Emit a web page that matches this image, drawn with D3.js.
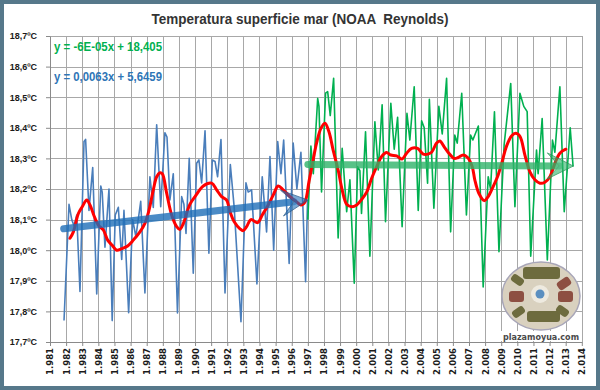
<!DOCTYPE html>
<html><head><meta charset="utf-8">
<script src="https://cdn.jsdelivr.net/npm/d3@7"></script>
<style>html,body{margin:0;padding:0;background:#fff}svg{display:block}</style>
</head><body>
<script>
// ---------- DATA ----------
const title = "Temperatura superficie mar (NOAA  Reynolds)";
const yearTicks = d3.range(1981, 2015);
const tempTicks = [17.7,17.8,17.9,18.0,18.1,18.2,18.3,18.4,18.5,18.6,18.7];
const eqGreen = "y = -6E-05x + 18,405";
const eqBlue = "y = 0,0063x + 5,6459";

// 1982-1996 series (blue)
const blueT = [1981.87,1982.18,1982.35,1982.49,1982.66,1982.86,1983.11,1983.21,1983.42,1983.65,1983.90,1984.15,1984.24,1984.41,1984.66,1984.86,1985.05,1985.24,1985.45,1985.59,1985.88,1986.13,1986.33,1986.63,1986.89,1987.20,1987.41,1987.62,1987.87,1988.13,1988.26,1988.44,1988.65,1988.91,1989.17,1989.31,1989.44,1989.64,1989.89,1990.10,1990.24,1990.41,1990.62,1990.86,1991.07,1991.24,1991.40,1991.61,1991.86,1992.19,1992.43,1992.85,1993.16,1993.30,1993.51,1993.84,1994.17,1994.44,1994.65,1994.88,1995.13,1995.33,1995.50,1995.84,1996.09,1996.32,1996.57,1996.86,1996.98];
const blueV = [17.77,18.15,18.10,18.08,18.115,17.865,18.355,18.362,18.13,18.27,17.857,18.21,18.19,18.01,18.20,17.77,18.115,18.14,17.97,18.13,17.796,18.10,18.044,18.16,17.86,18.24,18.14,18.41,18.142,18.384,18.37,18.164,18.25,17.795,18.175,18.15,18.055,18.30,17.925,18.284,18.295,18.22,18.39,17.99,18.295,18.29,18.24,18.362,17.86,18.28,18.14,17.766,18.22,18.19,18.197,17.89,18.24,18.06,18.306,18.0,18.355,18.25,18.36,17.957,18.35,18.2,18.32,17.897,18.164];

// 1997-2013 series (green)
const greenT = [1997.00,1997.19,1997.34,1997.61,1997.69,1997.85,1998.10,1998.23,1998.39,1998.60,1998.88,1999.13,1999.41,1999.61,1999.88,2000.09,2000.23,2000.33,2000.58,2000.85,2001.16,2001.37,2001.61,2001.82,2002.15,2002.36,2002.57,2002.85,2003.15,2003.33,2003.60,2003.85,2004.06,2004.22,2004.43,2004.54,2004.82,2005.13,2005.34,2005.61,2005.86,2006.12,2006.27,2006.55,2006.84,2007.10,2007.24,2007.58,2007.88,2008.19,2008.34,2008.58,2008.86,2009.18,2009.59,2009.85,2010.16,2010.40,2010.61,2010.83,2011.19,2011.29,2011.54,2011.86,2012.18,2012.33,2012.64,2012.91,2013.28,2013.46];
const greenV = [18.10,18.34,18.25,18.496,18.47,18.19,18.513,18.518,18.44,18.562,18.04,18.333,18.126,18.23,17.892,18.273,18.26,18.12,18.387,17.98,18.42,18.262,18.475,18.093,18.48,18.33,18.434,18.077,18.447,18.36,18.534,18.13,18.423,18.40,18.219,18.493,18.137,18.47,18.38,18.562,18.06,18.376,18.35,18.513,18.115,18.376,18.36,18.406,17.88,18.24,18.20,18.452,17.995,18.344,18.545,18.142,18.513,18.47,18.453,17.98,18.327,18.25,18.43,17.968,18.36,18.32,18.534,18.126,18.40,18.273];

// moving average (red)
const redT = [1982.24,1982.45,1982.76,1983.00,1983.28,1983.48,1983.75,1984.00,1984.31,1984.58,1984.86,1985.14,1985.45,1985.82,1986.17,1986.58,1986.89,1987.14,1987.41,1987.62,1987.82,1987.97,1988.24,1988.55,1988.86,1989.06,1989.27,1989.68,1990.00,1990.51,1991.03,1991.34,1991.65,1991.96,1992.17,1992.43,1992.79,1992.99,1993.20,1993.47,1993.88,1994.17,1994.54,1994.85,1995.16,1995.47,1995.89,1996.30,1996.57,1996.82,1997.07,1997.33,1997.54,1997.81,1998.06,1998.31,1998.57,1998.88,1999.13,1999.41,1999.72,2000.03,2000.34,2000.65,2000.96,2001.27,2001.58,2001.89,2002.15,2002.51,2002.85,2003.13,2003.44,2003.81,2004.16,2004.45,2004.68,2004.99,2005.19,2005.46,2005.75,2006.08,2006.33,2006.64,2006.91,2007.20,2007.36,2007.61,2007.94,2008.19,2008.50,2008.81,2009.06,2009.33,2009.64,2009.89,2010.16,2010.47,2010.78,2011.09,2011.40,2011.71,2012.02,2012.33,2012.64,2013.01];
const redV = [18.039,18.06,18.12,18.142,18.164,18.148,18.11,18.082,18.066,18.033,18.016,18.0,18.005,18.014,18.033,18.06,18.088,18.13,18.197,18.24,18.253,18.25,18.186,18.115,18.077,18.068,18.087,18.15,18.175,18.21,18.219,18.197,18.175,18.164,18.126,18.093,18.07,18.064,18.077,18.1,18.09,18.115,18.148,18.18,18.21,18.197,18.175,18.158,18.148,18.158,18.224,18.295,18.35,18.398,18.415,18.387,18.327,18.262,18.197,18.15,18.142,18.148,18.166,18.19,18.235,18.273,18.306,18.319,18.311,18.308,18.298,18.317,18.333,18.333,18.314,18.314,18.32,18.35,18.357,18.338,18.317,18.3,18.303,18.311,18.303,18.273,18.23,18.186,18.162,18.175,18.208,18.246,18.29,18.34,18.373,18.382,18.372,18.311,18.256,18.23,18.219,18.222,18.24,18.284,18.317,18.33];

// trend arrows
const blueTrendT = [1981.85, 1997.0];
const blueTrendV = [18.07, 18.164];
const greenTrendT = [1997.0, 2013.47];
const greenTrendV = [18.28, 18.275];

// ---------- DRAW ----------
const W = 600, H = 390;
const svg = d3.select("body").append("svg").attr("width", W).attr("height", H);
svg.append("rect").attr("width", W).attr("height", H).attr("fill", "#56788a");
svg.append("rect").attr("x", 4).attr("y", 4).attr("width", W - 8).attr("height", H - 8).attr("fill", "#fff");

const x = d3.scaleLinear().domain([1981, 2014]).range([50, 581.8]);
const y = d3.scaleLinear().domain([17.7, 18.7]).range([342, 36]);

svg.append("text").attr("x", 300).attr("y", 24).attr("text-anchor", "middle")
  .style("white-space", "pre")
  .attr("font-family", "'Liberation Sans', Arial, sans-serif").attr("font-weight", "bold")
  .attr("font-size", 14).attr("fill", "#333").attr("textLength", 297).attr("lengthAdjust", "spacingAndGlyphs")
  .text(title);

// grid
const grid = svg.append("g").attr("stroke", "#a8a8a8").attr("stroke-width", 1).attr("shape-rendering", "crispEdges");
grid.selectAll("line.h").data(tempTicks).join("line")
  .attr("x1", x(1981)).attr("x2", x(2014)).attr("y1", d => Math.round(y(d)) + 0.5).attr("y2", d => Math.round(y(d)) + 0.5);
grid.selectAll("line.v").data(yearTicks).join("line")
  .attr("y1", y(18.7)).attr("y2", y(17.7)).attr("x1", d => Math.round(x(d)) + 0.5).attr("x2", d => Math.round(x(d)) + 0.5);

// axes
const fmtYear = d => { const s = String(d); return s[0] + "." + s.slice(1); };
const xAxis = svg.append("g").attr("transform", `translate(0,${y(17.7)})`)
  .call(d3.axisBottom(x).tickValues(yearTicks).tickSize(4).tickSizeOuter(0).tickFormat(fmtYear));
xAxis.selectAll("text").attr("transform", "rotate(-90)").attr("x", -6).attr("y", 0).attr("dy", "0.35em")
  .style("text-anchor", "end").attr("font-family", "'DejaVu Sans', Verdana, sans-serif").attr("font-weight", "bold")
  .attr("font-size", 8.5).attr("fill", "#1a1a1a");
const yAxis = svg.append("g").attr("transform", `translate(${x(1981)},0)`)
  .call(d3.axisLeft(y).tickValues(tempTicks).tickSize(4).tickSizeOuter(0).tickPadding(9)
    .tickFormat(d => d.toFixed(1).replace(".", ",") + "ºC"));
yAxis.selectAll("text").attr("font-family", "'Liberation Sans', Arial, sans-serif").attr("font-weight", "bold")
  .attr("font-size", 9).attr("fill", "#1a1a1a");
svg.selectAll(".domain, .tick line").attr("stroke", "#8a8a8a");

const line = d3.line().x(d => x(d[0])).y(d => y(d[1]));
svg.append("path").datum(d3.zip(blueT, blueV)).attr("d", line)
  .attr("fill", "none").attr("stroke", "#4a7ebb").attr("stroke-width", 1.6).attr("stroke-linejoin", "round");
svg.append("path").datum(d3.zip(greenT, greenV)).attr("d", line)
  .attr("fill", "none").attr("stroke", "#00b050").attr("stroke-width", 1.6).attr("stroke-linejoin", "round");
svg.append("path").datum(d3.zip(redT, redV)).attr("d", line.curve(d3.curveCatmullRom))
  .attr("fill", "none").attr("stroke", "#ff0000").attr("stroke-width", 3).attr("stroke-linejoin", "round").attr("stroke-linecap", "round");
line.curve(d3.curveLinear);

function arrow(ts, vs, color, edge) {
  const x0 = x(ts[0]), y0 = y(vs[0]), x1 = x(ts[1]), y1 = y(vs[1]);
  const a = Math.atan2(y1 - y0, x1 - x0);
  const L = 26, Wd = 13, N = 14;
  const cos = Math.cos(a), sin = Math.sin(a);
  const pt = (back, side) => [x1 - back * cos - side * sin, y1 - back * sin + side * cos];
  const g = svg.append("g").attr("opacity", 0.8);
  g.append("line").attr("x1", x0).attr("y1", y0).attr("x2", pt(N, 0)[0]).attr("y2", pt(N, 0)[1])
    .attr("stroke", color).attr("stroke-width", 7).attr("stroke-linecap", "round");
  const head = [pt(0, 0), pt(L, -Wd), pt(N, 0), pt(L, Wd)];
  g.append("path").attr("d", "M" + head.map(p => p.join(",")).join("L") + "Z")
    .attr("fill", color).attr("fill-opacity", 0.75).attr("stroke", edge).attr("stroke-width", 1);
}
arrow(blueTrendT, blueTrendV, "#1f6fb8", "#2a5d8f");
arrow(greenTrendT, greenTrendV, "#2fb36a", "#2a9a5a");

// equations
svg.append("text").attr("x", 54).attr("y", 51).attr("font-family", "'Liberation Sans', Arial, sans-serif")
  .attr("font-weight", "bold").attr("font-size", 12).attr("fill", "#00b050")
  .attr("textLength", 108).attr("lengthAdjust", "spacingAndGlyphs").text(eqGreen);
svg.append("text").attr("x", 54).attr("y", 81).attr("font-family", "'Liberation Sans', Arial, sans-serif")
  .attr("font-weight", "bold").attr("font-size", 12).attr("fill", "#2e75b6")
  .attr("textLength", 108).attr("lengthAdjust", "spacingAndGlyphs").text(eqBlue);

// logo
const lg = svg.append("g");
lg.append("rect").attr("x", 500).attr("y", 331).attr("width", 81).attr("height", 10).attr("fill", "#fff");
lg.append("ellipse").attr("cx", 541).attr("cy", 296).attr("rx", 39).attr("ry", 34)
  .attr("fill", "#d9d1bf").attr("stroke", "#a8a6b8").attr("stroke-width", 1.5);
const olive = "#6d6b3e", brown = "#8d4f42";
const blocks = [
  [523, 267, 37, 12, olive, 0], [527, 311, 33, 11, olive, 0],
  [509, 291, 15, 11, brown, 0], [558, 291, 15, 11, brown, 0],
  [511, 276, 13, 8, olive, 35], [557, 279, 14, 9, brown, -35],
  [512, 308, 13, 8, olive, -35], [556, 307, 13, 8, olive, 35]
];
blocks.forEach(b => {
  lg.append("rect").attr("x", b[0]).attr("y", b[1]).attr("width", b[2]).attr("height", b[3]).attr("rx", 3)
    .attr("fill", b[4]).attr("transform", `rotate(${b[5]},${b[0] + b[2] / 2},${b[1] + b[3] / 2})`);
});
lg.append("circle").attr("cx", 540).attr("cy", 294).attr("r", 9).attr("fill", "#eeeae0");
lg.append("circle").attr("cx", 540).attr("cy", 294).attr("r", 4.5).attr("fill", "#5b8fc0");
lg.append("text").attr("x", 541).attr("y", 340).attr("text-anchor", "middle")
  .attr("font-family", "'DejaVu Sans', Verdana, sans-serif").attr("font-weight", "bold").attr("font-size", 8.5)
  .attr("fill", "#4a4a4a").attr("textLength", 76).attr("lengthAdjust", "spacingAndGlyphs").text("plazamoyua.com");
</script>
</body></html>
